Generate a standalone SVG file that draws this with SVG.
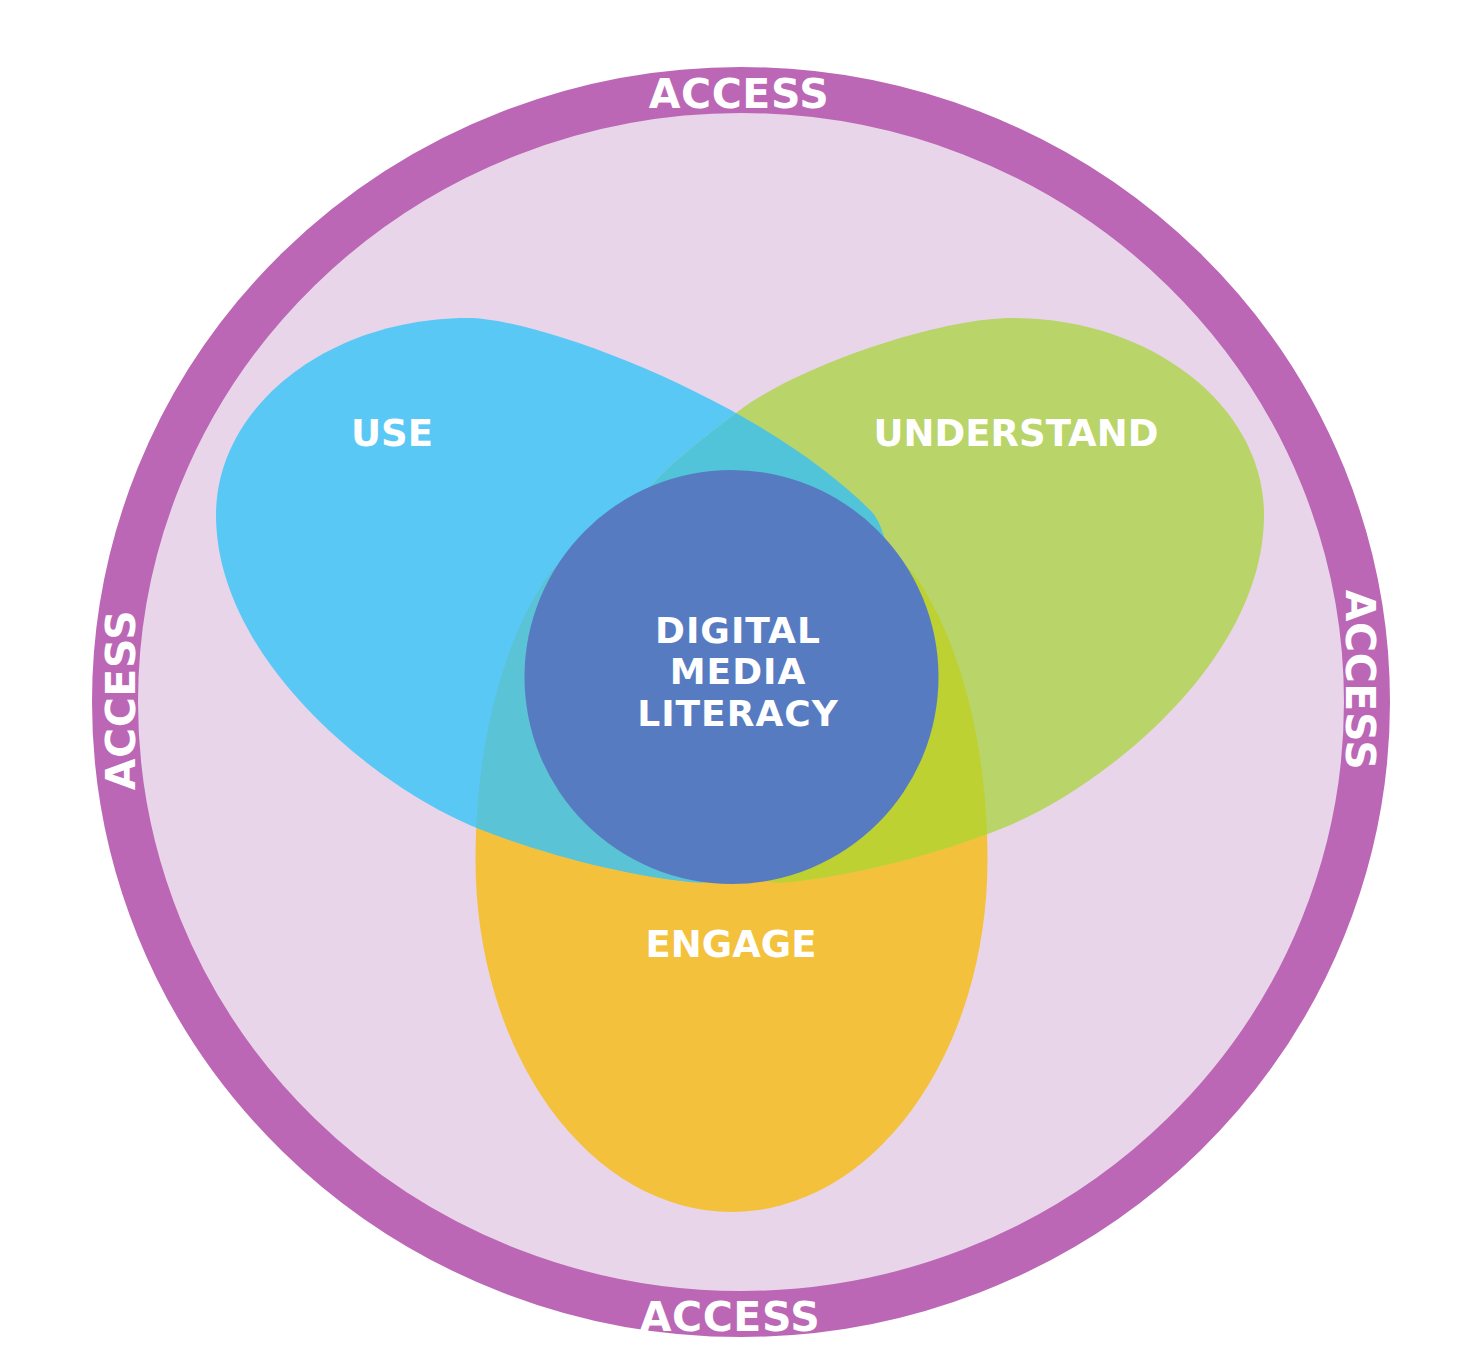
<svg xmlns="http://www.w3.org/2000/svg" xmlns:xlink="http://www.w3.org/1999/xlink" width="1467" height="1365" viewBox="0 0 1467 1365">
  <style>
    .lbl { font-family: "DejaVu Sans", "Liberation Sans", sans-serif; font-weight: bold; fill: #FFFFFF; text-anchor: middle; }
    .ring-lbl { font-size: 41px; letter-spacing: 0.6px; }
    .petal-lbl { font-size: 37px; }
    .core-lbl { font-size: 36px; letter-spacing: 1px; }
  </style>
  <defs>
    <path id="shapeUse" d="M 216 515 C 216 406 329 318 468 318 C 540 318 760 400 870 510 C 930 570 840 897 690 882 C 630 876 547 856 477 828 C 377 788 216 660 216 515 Z"/>
    <path id="shapeUnderstand" d="M 1264 515 C 1264 406 1151 318 1012 318 C 940 318 800 365 740 410 C 695 444 668 466 650 487 C 632 508 640 897 790 882 C 850 876 933 856 1003 828 C 1103 788 1264 660 1264 515 Z"/>
    <path id="shapeEngage" d="M 475.5 860 C 475.5 740 505 640 545 580 C 577 532 660 520 731.5 520 C 803 520 886 532 918 580 C 958 640 987.5 740 987.5 860 A 256 352 0 0 1 475.5 860 Z"/>
    <clipPath id="clipEngage"><use xlink:href="#shapeEngage" href="#shapeEngage"/></clipPath>
    <clipPath id="clipUse"><use xlink:href="#shapeUse" href="#shapeUse"/></clipPath>
  </defs>

  <rect x="0" y="0" width="1467" height="1365" fill="#FFFFFF"/>

  <g id="access">
    <ellipse cx="741" cy="702" rx="626" ry="612" fill="#E9D5E9" stroke="#BB67B5" stroke-width="46"/>
    <text class="lbl ring-lbl" x="739" y="108">ACCESS</text>
    <text class="lbl ring-lbl" x="730" y="1331">ACCESS</text>
    <text class="lbl ring-lbl" transform="translate(135,700) rotate(-90)" x="0" y="0">ACCESS</text>
    <text class="lbl ring-lbl" transform="translate(1346,680) rotate(90)" x="0" y="0">ACCESS</text>
  </g>

  <g id="engage">
    <use xlink:href="#shapeEngage" href="#shapeEngage" fill="#F4C13C"/>
    <text class="lbl petal-lbl" x="731" y="957">ENGAGE</text>
  </g>

  <g id="use">
    <use xlink:href="#shapeUse" href="#shapeUse" fill="#5AC8F4"/>
    <text class="lbl petal-lbl" x="392" y="446">USE</text>
  </g>

  <g id="understand">
    <use xlink:href="#shapeUnderstand" href="#shapeUnderstand" fill="#B9D469"/>
    <text class="lbl petal-lbl" x="1016" y="446">UNDERSTAND</text>
  </g>

  <g id="overlaps">
    <g clip-path="url(#clipEngage)">
      <use xlink:href="#shapeUse" href="#shapeUse" fill="#5BC3D6"/>
      <use xlink:href="#shapeUnderstand" href="#shapeUnderstand" fill="#BDD133"/>
    </g>
    <g clip-path="url(#clipUse)">
      <use xlink:href="#shapeUnderstand" href="#shapeUnderstand" fill="#52C4D9"/>
    </g>
  </g>

  <g id="digital-media-literacy">
    <circle cx="731.5" cy="677" r="207" fill="#577BC1"/>
    <text class="lbl core-lbl" x="738" y="643">DIGITAL</text>
    <text class="lbl core-lbl" x="738" y="684">MEDIA</text>
    <text class="lbl core-lbl" x="738" y="726">LITERACY</text>
  </g>

  <g id="connectors"/>
</svg>
